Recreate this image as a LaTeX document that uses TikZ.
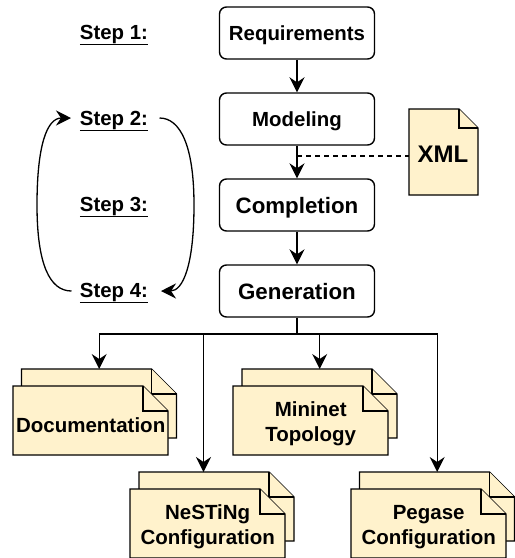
\documentclass[tikz,border=0pt]{standalone}
\usepackage{fontspec}
\setmainfont{Liberation Sans}
\usetikzlibrary{arrows.meta,calc}
\definecolor{docfill}{HTML}{FFF2CC}
\tikzset{
  x=1pt,y=-1pt,
  every node/.style={font=\bfseries},
  boxn/.style={draw=black,line width=1.4pt,rounded corners=7pt,fill=white,minimum width=155pt,minimum height=52pt,inner sep=0pt,anchor=center},
  smallbox/.style={boxn,font=\bfseries\fontsize{20.4}{24}\selectfont,text height=14.6pt,text depth=0pt},
  bigbox/.style={boxn,font=\bfseries\fontsize{22.3}{26}\selectfont,text height=16pt,text depth=0pt},
  steplabel/.style={font=\bfseries\fontsize{20.4}{24}\selectfont,inner sep=0pt,anchor=center},
  sheet/.style={draw=black,line width=1.3pt,fill=docfill,line join=miter},
  holder/.style={minimum width=155pt,minimum height=69pt,inner sep=0pt,anchor=north west,draw=none},
  doclabel/.style={font=\bfseries\fontsize{20.5}{25}\selectfont,align=center,inner sep=0pt,anchor=center},
  arr/.style={draw=black,line width=1.4pt,-{Stealth[length=15pt,width=15pt,inset=5pt]}},
  arrthick/.style={arr,line width=2pt},
  bus/.style={draw=black,line width=1.3pt},
  loopc/.style={draw=black,line width=1.3pt,-{Stealth[length=15pt,width=15pt,inset=5pt]}}
}
\newcommand{\onesheet}[3]{% x, y, fold
  \fill[docfill] (#1,#2) -- (#1+155-#3,#2) -- (#1+155,#2+#3) -- (#1+155,#2+69) -- (#1,#2+69) -- cycle;
  \draw[sheet] (#1,#2) -- (#1+155-#3,#2) -- (#1+155,#2+#3) -- (#1+155,#2+69) -- (#1,#2+69) -- cycle;
  \draw[sheet] (#1+155-#3,#2) -- (#1+155-#3,#2+#3) -- (#1+155,#2+#3);
}
\newcommand{\docstack}[6]{% name, front x, front y, shift x, text offset y, text
  \onesheet{#2+#4}{#3-17}{25}
  \node[holder] (#1back) at (#2+#4,#3-17) {};
  \onesheet{#2}{#3}{25}
  \node[holder] (#1) at (#2,#3) {};
  \node[doclabel] (#1text) at ($(#1.center)+(0,#5)$) {#6};
}
\begin{document}
\begin{tikzpicture}
\useasboundingbox (0,0) rectangle (515,558);
\node[smallbox] (req) at (297,33) {Requirements};
\node[smallbox] (mod) at (297,119) {Modeling};
\node[bigbox] (comp) at (297,205) {Completion};
\node[bigbox] (gen) at (297,291) {Generation};
\node[steplabel] (s1) at (114,35) {\underline{Step 1:}};
\node[steplabel] (s2) at (114,121) {\underline{Step 2:}};
\node[steplabel] (s3) at (114,207) {\underline{Step 3:}};
\node[steplabel] (s4) at (114,293) {\underline{Step 4:}};
% XML document
\fill[docfill] (409,109) -- (459,109) -- (478,128) -- (478,195) -- (409,195) -- cycle;
\draw[sheet] (409,109) -- (459,109) -- (478,128) -- (478,195) -- (409,195) -- cycle;
\draw[sheet] (459,109) -- (459,128) -- (478,128);
\node[holder,minimum width=69pt,minimum height=86pt] (xml) at (409,109) {};
\node[font=\bfseries\fontsize{24}{28}\selectfont,inner sep=0pt] (xmltext) at (443,154) {XML};
% stacks
\docstack{docu}{13}{386}{8.5}{4}{Documentation}
\docstack{mini}{233}{386}{9}{3}{Mininet\\Topology}
\docstack{nest}{130}{489}{9}{3.5}{NeSTiNg\\Configuration}
\docstack{pega}{351}{489}{8.5}{3.5}{Pegase\\Configuration}
% connectors
\draw[arrthick] (req.south) -- (mod.north);
\draw[arr] (mod.south) -- (comp.north);
\draw[arr] (comp.south) -- (gen.north);
\coordinate (tap) at (297,156);
\draw[draw=black,line width=1.2pt,dash pattern=on 5pt off 4pt] (tap) -- (xml.west |- tap);
\coordinate (busc) at (297,334);
\draw[bus] (gen.south) -- (busc);
\draw[arr] (busc) -| (docuback.north);
\coordinate (nestin) at (203.5,472);
\draw[bus] (busc) -- (437,334);
\draw[arr] (busc -| nestin) -- (nestin);
\draw[arr] (busc) -| (miniback.north);
\draw[arr] (busc) -| (pegaback.north);
% loops
\coordinate (l4) at (71.5,291);
\coordinate (l2) at (71,118);
\coordinate (r2) at (159.5,118);
\coordinate (r4) at (161,291);
\draw[loopc] (l4) .. controls (50,291) and (37,265) .. (37,205) .. controls (37,145) and (47,118) .. (l2);
\draw[loopc] (r2) .. controls (180,118) and (194,145) .. (194,205) .. controls (194,265) and (183,291) .. (r4);
\end{tikzpicture}
\end{document}
